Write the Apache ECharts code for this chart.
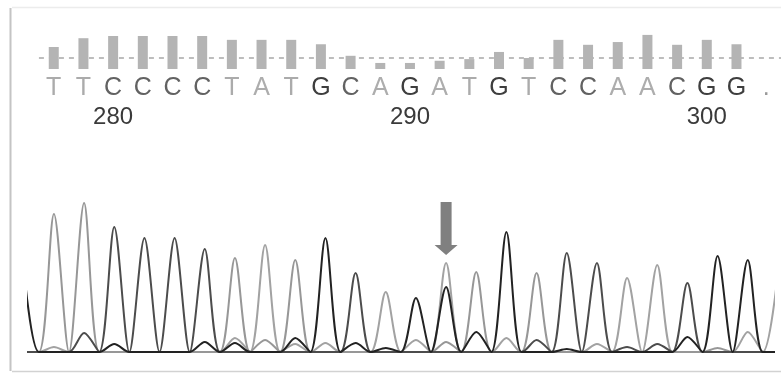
<!DOCTYPE html>
<html>
<head>
<meta charset="utf-8">
<script src="https://cdn.jsdelivr.net/npm/echarts@6/dist/echarts.min.js"></script>
<style>
html,body{margin:0;padding:0;background:#fff;}
#chart{width:781px;height:375px;}
</style>
</head>
<body>
<div id="chart"></div>
<script>
// ---- data ----
const bases = [277,278,279,280,281,282,283,284,285,286,287,288,289,290,291,292,293,294,295,296,297,298,299,300,301,302];
const calls = ['', 'T','T','C','C','C','C','T','A','T','G','C','A','G','A','T','G','T','C','C','A','A','C','G','G','.'];
const quality = [null,40,56,60,60,60,60,53,53,53,45,24,11,11,15,18,31,20,53,44,49,62,44,53,45,null];
const qualityThreshold = 20;
const traceA = [0,5,0,0,0,0,0,14,107,8,9,0,60,12,89,0,14,0,0,8,74,87,0,0,20,80];
const traceC = [0,0,19,125,114,114,103,0,0,0,0,79,0,0,0,0,0,12,99,89,5,8,69,0,0,0];
const traceG = [85,0,0,8,0,0,10,9,0,14,114,9,4,54,65,20,120,0,3,0,0,0,15,96,92,0];
const traceT = [0,138,149,0,0,0,0,94,12,92,0,0,0,0,10,80,0,79,0,0,0,0,0,4,0,0];
const markedBase = 291;

const letterColor = {A:'#adadad', T:'#ababab', C:'#626262', G:'#3e3e3e', dot:'#999'};
const traceColor = {A:'#a2a2a2', T:'#979797', C:'#4c4c4c', G:'#222222'};

function traceData(h){
  const out = [];
  for (let i = 0; i < bases.length; i++){
    out.push([bases[i], h[i]]);
    if (i < bases.length - 1) out.push([(bases[i] + bases[i+1]) / 2, 0]);
  }
  return out;
}

const topCats = bases.slice(1);
const topCalls = calls.slice(1);
const topQual = quality.slice(1);

const band = 30.17;
const rich = {};
Object.keys(letterColor).forEach(k => {
  rich[k] = {color: letterColor[k], fontSize: 25, fontFamily: 'Liberation Sans'};
});
function styleKey(c){ return /^[ACGT]$/.test(c) ? c : 'dot'; }

function traceSeries(name, h, extra){
  return Object.assign({
    name: name,
    type: 'line',
    xAxisIndex: 2, yAxisIndex: 1,
    data: traceData(h),
    smooth: 0.3,
    showSymbol: false,
    symbol: 'none',
    clip: true,
    lineStyle: {color: traceColor[name], width: 2},
    z: name === 'G' ? 4 : (name === 'C' ? 3 : 2),
    silent: true
  }, extra || {});
}

const chart = echarts.init(document.getElementById('chart'), null, {renderer: 'canvas'});
chart.setOption({
  animation: false,
  backgroundColor: '#ffffff',
  grid: [
    {left: 54 - band / 2, top: 30.5, width: band * topCats.length, height: 38.5},
    {left: 28, right: 7, top: 202, bottom: 23}
  ],
  xAxis: [
    {
      type: 'category', gridIndex: 0, data: topCats, boundaryGap: true,
      axisLine: {show: false}, axisTick: {show: false}, splitLine: {show: false},
      axisLabel: {
        interval: 0, margin: 7,
        formatter: (v, i) => topCalls[i] ? '{' + styleKey(topCalls[i]) + '|' + topCalls[i] + '}' : '',
        rich: rich
      }
    },
    {
      type: 'category', gridIndex: 0, data: topCats, boundaryGap: true, position: 'bottom', offset: 32,
      axisLine: {show: false}, axisTick: {show: false}, splitLine: {show: false},
      axisLabel: {
        interval: 0, margin: 4, color: '#3a3a3a', fontSize: 24, fontFamily: 'Liberation Sans',
        formatter: v => (Number(v) % 10 === 0 ? String(v) : '')
      }
    },
    {
      type: 'value', gridIndex: 1, min: 277.14, max: 301.87,
      axisLine: {show: true, onZero: false, lineStyle: {color: '#555', width: 2}},
      axisTick: {show: false}, axisLabel: {show: false}, splitLine: {show: false}
    }
  ],
  yAxis: [
    {type: 'value', gridIndex: 0, min: 0, max: 70, show: false},
    {type: 'value', gridIndex: 1, min: 0, max: 150, show: false}
  ],
  series: [
    {
      type: 'bar', xAxisIndex: 0, yAxisIndex: 0,
      data: topQual, barWidth: 10,
      itemStyle: {color: '#b4b4b4'},
      silent: true, z: 2,
      markLine: {
        silent: true, symbol: 'none', label: {show: false},
        lineStyle: {color: '#a8a8a8', type: [5, 5], width: 1.5},
        data: [{yAxis: qualityThreshold}],
        z: 1
      }
    },
    traceSeries('A', traceA, {
      markPoint: {
        silent: true,
        symbol: 'path://M6,0 L17,0 L17,43 L23,43 L11.5,53 L0,43 L6,43 Z',
        symbolSize: [23, 53],
        symbolKeepAspect: false,
        symbolOffset: [0, -26.5],
        itemStyle: {color: '#808080'},
        label: {show: false},
        data: [{coord: [markedBase, 97]}]
      }
    }),
    traceSeries('T', traceT),
    traceSeries('C', traceC),
    traceSeries('G', traceG)
  ],
  graphic: [
    {type: 'line', silent: true, shape: {x1: 10.5, y1: 8, x2: 10.5, y2: 371}, style: {stroke: '#c4c4c4', lineWidth: 2}},
    {type: 'line', silent: true, shape: {x1: 12, y1: 7.5, x2: 781, y2: 7.5}, style: {stroke: '#ececec', lineWidth: 1.5}},
    {type: 'line', silent: true, shape: {x1: 12, y1: 371.5, x2: 781, y2: 371.5}, style: {stroke: '#d2d2d2', lineWidth: 1.5}}
  ]
});
</script>
</body>
</html>
